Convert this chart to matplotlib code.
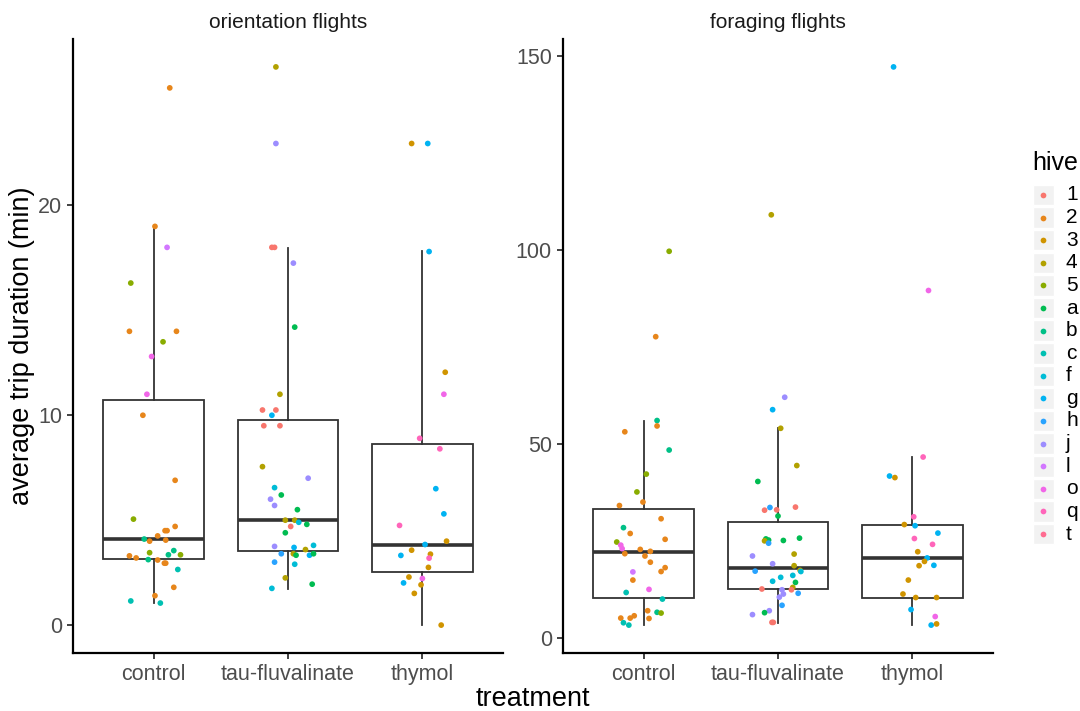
import matplotlib
matplotlib.use("Agg")
import matplotlib.pyplot as plt
from matplotlib.patches import Rectangle

plt.rcParams['font.family'] = ['Liberation Sans', 'DejaVu Sans']

# ---------------- data ----------------
treatments = ["control", "tau-fluvalinate", "thymol"]
panels = ["orientation flights", "foraging flights"]
hives = ["1", "2", "3", "4", "5", "a", "b", "c", "f", "g", "h", "j", "l", "o", "q", "t"]
# ggplot hue order as shown in the legend
hive_colors = ["#F8766D", "#E7861B", "#D09400", "#B2A100", "#89AC00", "#00BC51",
               "#00C087", "#00C0B2", "#00BCD6", "#00B3F2", "#29A3FF", "#9C8DFF",
               "#D277FF", "#F166E8", "#FF65BA", "#FF6C91"]

# orientation flights (minutes)
orient_control_vals = [25.6, 19.0, 18.0, 16.3, 14.0, 14.0, 13.5, 12.8, 11.0, 10.0,
                       6.9, 5.05, 4.7, 4.5, 4.5, 4.25, 4.1, 4.0, 4.05, 3.45,
                       3.55, 3.35, 3.35, 3.3, 3.2, 3.12, 3.1, 2.95, 2.95, 2.65,
                       1.8, 1.4, 1.15, 1.05]
orient_control_hive = ["2", "2", "l", "5", "2", "2", "5", "o", "o", "2",
                       "2", "5", "2", "2", "2", "2", "b", "2", "2", "5",
                       "b", "b", "5", "2", "2", "b", "2", "2", "2", "c",
                       "2", "2", "c", "c"]
orient_control_jit = [0.12, 0.01, 0.10, -0.17, -0.18, 0.17, 0.07, -0.015, -0.05, -0.08,
                      0.16, -0.15, 0.16, 0.085, 0.10, 0.03, -0.07, -0.03, 0.09, -0.03,
                      0.15, 0.11, 0.20, -0.18, -0.13, -0.04, 0.03, 0.08, 0.09, 0.18,
                      0.15, 0.01, -0.17, 0.05]

orient_tau_vals = [26.6, 22.95, 18.0, 18.0, 17.25, 14.2, 11.0, 10.25, 10.25, 10.0,
                   9.5, 9.5, 7.55, 7.0, 6.55, 6.2, 6.0, 5.7, 5.5, 5.0,
                   5.0, 4.9, 4.8, 4.7, 4.4, 3.75, 3.7, 3.6, 3.8, 3.4,
                   3.4, 3.33, 3.33, 3.4, 3.0, 2.9, 2.25, 1.95, 1.75]
orient_tau_hive = ["4", "j", "1", "1", "j", "a", "4", "1", "1", "g",
                   "1", "1", "4", "j", "f", "a", "j", "j", "a", "4",
                   "4", "f", "a", "1", "a", "j", "g", "4", "f", "h",
                   "4", "a", "g", "a", "h", "f", "4", "a", "f"]
orient_tau_jit = [-0.09, -0.09, -0.12, -0.10, 0.04, 0.05, -0.06, -0.19, -0.09, -0.12,
                  -0.18, -0.06, -0.19, 0.15, -0.10, -0.05, -0.13, -0.10, 0.07, -0.02,
                  0.05, 0.08, 0.14, 0.02, -0.02, -0.10, 0.045, 0.13, 0.19, -0.05,
                  0.04, 0.06, 0.16, 0.19, -0.10, 0.05, -0.02, 0.18, -0.12]

orient_thymol_vals = [22.95, 22.95, 17.8, 12.05, 11.0, 8.9, 8.4, 6.5, 5.3, 4.75,
                      4.0, 3.84, 3.57, 3.32, 3.38, 3.19, 2.75, 2.29, 2.22, 2.01,
                      1.92, 1.51, 0.0]
orient_thymol_hive = ["3", "g", "g", "3", "o", "q", "q", "g", "g", "q",
                      "3", "g", "3", "g", "3", "q", "3", "3", "o", "g",
                      "3", "3", "3"]
orient_thymol_jit = [-0.08, 0.04, 0.05, 0.17, 0.16, -0.02, 0.13, 0.10, 0.16, -0.17,
                     0.18, 0.02, -0.08, -0.16, 0.06, 0.05, 0.045, -0.10, 0.0, -0.14,
                     -0.01, -0.06, 0.14]

# foraging flights (minutes)
forage_control_vals = [99.6, 77.6, 56.0, 54.6, 53.1, 48.4, 42.2, 37.6, 35.0, 34.1,
                       30.7, 28.4, 26.9, 25.4, 24.7, 23.9, 23.0, 22.8, 22.3, 21.7,
                       21.1, 19.5, 18.1, 17.1, 17.0, 14.9, 12.5, 11.7, 10.0, 7.0,
                       6.6, 6.4, 5.1, 5.1, 5.7, 5.0, 3.9, 3.3]
forage_control_hive = ["5", "2", "b", "2", "2", "b", "5", "5", "2", "2",
                       "2", "b", "2", "2", "5", "o", "o", "2", "2", "2",
                       "2", "2", "2", "2", "l", "2", "o", "c", "c", "2",
                       "b", "5", "2", "2", "2", "2", "c", "c"]
forage_control_jit = [0.19, 0.09, 0.10, 0.10, -0.14, 0.19, 0.02, -0.05, -0.005, -0.18,
                      0.13, -0.15, -0.10, 0.16, -0.20, -0.17, -0.16, -0.025, 0.05, -0.14,
                      0.01, 0.05, 0.16, 0.13, -0.08, -0.08, 0.04, -0.13, 0.14, 0.03,
                      0.10, 0.13, -0.17, -0.10, -0.07, 0.04, -0.15, -0.11]

forage_tau_vals = [109.0, 62.0, 58.8, 54.0, 44.4, 40.3, 33.6, 32.9, 33.0, 33.7,
                   31.4, 25.5, 25.2, 25.0, 24.4, 25.1, 25.7, 21.1, 21.6, 19.1,
                   18.6, 17.2, 17.4, 17.1, 16.1, 15.6, 14.6, 14.3, 13.0, 12.4,
                   12.6, 12.4, 11.5, 11.3, 10.5, 8.4, 7.0, 6.5, 6.0, 4.0, 4.0]
forage_tau_hive = ["4", "j", "g", "4", "4", "a", "h", "1", "1", "1",
                   "a", "a", "a", "4", "h", "a", "a", "j", "4", "j",
                   "4", "h", "4", "f", "f", "f", "f", "a", "4", "1",
                   "1", "j", "h", "j", "j", "h", "j", "a", "j", "1", "1"]
forage_tau_jit = [-0.05, 0.05, -0.04, 0.02, 0.14, -0.15, -0.06, -0.10, -0.01, 0.13,
                  0.0, -0.09, -0.07, -0.10, -0.07, 0.04, 0.16, -0.19, 0.12, -0.04,
                  0.12, -0.17, 0.165, 0.17, 0.11, 0.02, -0.04, 0.13, 0.11, 0.10,
                  -0.12, 0.03, 0.15, 0.04, 0.01, 0.03, -0.065, -0.10, -0.19, -0.045, -0.035]

forage_thymol_vals = [147.1, 89.5, 46.6, 41.7, 41.3, 31.2, 29.2, 28.9, 27.0, 25.6,
                      24.1, 22.2, 20.6, 19.7, 18.6, 18.7, 14.9, 11.3, 10.4, 10.4,
                      7.3, 5.5, 3.3, 3.6]
forage_thymol_hive = ["g", "o", "q", "g", "3", "q", "3", "g", "g", "q",
                      "q", "3", "g", "3", "3", "g", "3", "3", "3", "3",
                      "g", "o", "g", "3"]
forage_thymol_jit = [-0.14, 0.12, 0.08, -0.17, -0.13, 0.01, -0.06, 0.02, 0.19, 0.015,
                     0.15, 0.04, 0.11, 0.09, 0.05, 0.16, -0.03, -0.07, 0.025, 0.18,
                     -0.01, 0.17, 0.14, 0.18]

# box statistics
orient_q1 = [3.16, 3.52, 2.51]
orient_med = [4.1, 5.0, 3.84]
orient_q3 = [10.75, 9.75, 8.63]
orient_whislo = [1.05, 1.73, 0.0]
orient_whishi = [18.99, 17.97, 17.82]

forage_q1 = [10.4, 12.6, 10.4]
forage_med = [22.1, 17.96, 20.6]
forage_q3 = [33.2, 29.9, 29.2]
forage_whislo = [3.27, 3.96, 3.27]
forage_whishi = [56.0, 54.0, 46.6]

orient_groups = [(orient_control_vals, orient_control_hive, orient_control_jit),
                 (orient_tau_vals, orient_tau_hive, orient_tau_jit),
                 (orient_thymol_vals, orient_thymol_hive, orient_thymol_jit)]
forage_groups = [(forage_control_vals, forage_control_hive, forage_control_jit),
                 (forage_tau_vals, forage_tau_hive, forage_tau_jit),
                 (forage_thymol_vals, forage_thymol_hive, forage_thymol_jit)]

# ---------------- figure ----------------
W, H = 1080, 711
fig = plt.figure(figsize=(W / 100, H / 100), dpi=100)
color_of = dict(zip(hives, hive_colors))

BOXC = "#333333"
TICKC = "#4D4D4D"


def px_axes(x0, y0, x1, y1, **kw):
    return fig.add_axes([x0 / W, 1 - y1 / H, (x1 - x0) / W, (y1 - y0) / H], **kw)


def draw_panel(ax, groups, q1, med, q3, lo, hi, yticks):
    stats = []
    for i in range(3):
        stats.append(dict(q1=q1[i], med=med[i], q3=q3[i], whislo=lo[i], whishi=hi[i],
                          fliers=[]))
    ax.bxp(stats, positions=[1, 2, 3], widths=0.75, patch_artist=True,
           showfliers=False, showcaps=False,
           boxprops=dict(facecolor="white", edgecolor=BOXC, linewidth=1.3),
           medianprops=dict(color=BOXC, linewidth=2.6, solid_capstyle="butt"),
           whiskerprops=dict(color=BOXC, linewidth=1.3))
    allv = []
    for i, (vals, hv, jit) in enumerate(groups):
        xs = [i + 1 + j for j in jit]
        cs = [color_of[h] for h in hv]
        ax.scatter(xs, vals, s=17, c=cs, linewidths=0, zorder=4)
        allv += vals
    vmin, vmax = min(allv), max(allv)
    pad = 0.05 * (vmax - vmin)
    ax.set_ylim(vmin - pad, vmax + pad)
    ax.set_xlim(0.4, 3.6)
    ax.set_xticks([1, 2, 3])
    ax.set_xticklabels(treatments)
    ax.set_yticks(yticks)
    for s in ["top", "right"]:
        ax.spines[s].set_visible(False)
    for s in ["left", "bottom"]:
        ax.spines[s].set_linewidth(1.6)
        ax.spines[s].set_color("black")
    ax.tick_params(axis="both", length=4, width=1.3, color=BOXC, labelcolor=TICKC,
                   labelsize=15.5)
    ax.tick_params(axis="x", pad=4)
    ax.tick_params(axis="y", pad=4)
    ax.set_facecolor("white")


ax1 = px_axes(73, 39, 503, 653)
draw_panel(ax1, orient_groups, orient_q1, orient_med, orient_q3, orient_whislo,
           orient_whishi, [0, 10, 20])
ax2 = px_axes(563, 39, 993, 653)
draw_panel(ax2, forage_groups, forage_q1, forage_med, forage_q3, forage_whislo,
           forage_whishi, [0, 50, 100, 150])

# overlay axes for text and legend (pixel coordinates)
ov = fig.add_axes([0, 0, 1, 1], zorder=-1)
ov.set_xlim(0, W)
ov.set_ylim(H, 0)
ov.axis("off")

ov.text(288, 22, panels[0], ha="center", va="center", fontsize=15, color="#1A1A1A")
ov.text(778, 22, panels[1], ha="center", va="center", fontsize=15, color="#1A1A1A")
ov.text(533, 699, "treatment", ha="center", va="center", fontsize=19.5, color="black")
ov.text(22, 346, "average trip duration (min)", ha="center", va="center",
        rotation=90, fontsize=19.5, color="black")

# legend
ov2 = fig.add_axes([0, 0, 1, 1], zorder=5)
ov2.set_xlim(0, W)
ov2.set_ylim(H, 0)
ov2.axis("off")
ov2.text(1032, 163, "hive", ha="left", va="center", fontsize=18, color="black")
for i, h in enumerate(hives):
    yc = 195 + i * 22.6
    ov2.add_patch(Rectangle((1033, yc - 10.3), 20.6, 20.6, facecolor="#F2F2F2",
                            edgecolor="white", linewidth=1))
    ov2.scatter([1043.3], [yc], s=17, c=[color_of[h]], linewidths=0, zorder=6)
    ov2.text(1066, yc, h, ha="left", va="center", fontsize=15, color="black")

fig.savefig("out.png", dpi=100)
